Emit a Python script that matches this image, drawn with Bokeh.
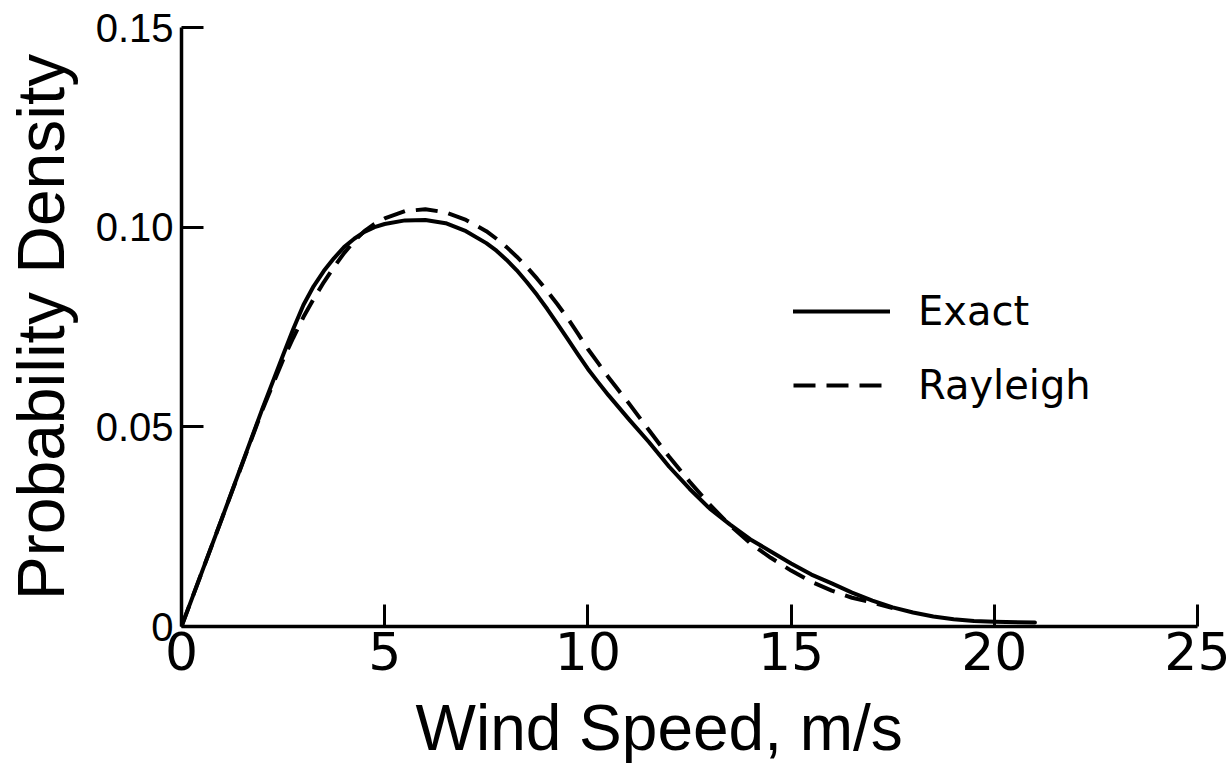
from bokeh.embed import file_html
from bokeh.models import FixedTicker, Legend, LegendItem, Range1d, Title
from bokeh.plotting import figure
from bokeh.resources import INLINE

# Wind speed (m/s) and probability density for the two distributions
speed_exact = [0, 1, 2, 2.5, 2.75, 3, 3.25, 3.5, 3.75, 4, 4.25, 4.5, 4.75, 5,
               5.5, 6, 6.5, 7, 7.5, 7.75, 8, 8.25, 8.5, 8.75, 9, 9.25, 9.5,
               9.75, 10, 10.25, 10.5, 10.75, 11, 11.5, 12, 12.5, 13, 13.5, 14,
               14.5, 15, 15.5, 16, 16.5, 17, 17.5, 18, 18.5, 19, 19.5, 20, 21]
density_exact = [0.0, 0.0272, 0.0548, 0.0680, 0.0745, 0.0805, 0.0852, 0.0890,
                 0.0922, 0.0950, 0.0971, 0.0988, 0.1000, 0.1008, 0.1017,
                 0.1018, 0.1010, 0.0990, 0.0960, 0.0941, 0.0918, 0.0892,
                 0.0862, 0.0830, 0.0795, 0.0758, 0.0720, 0.0682, 0.0645,
                 0.0612, 0.0580, 0.0550, 0.0520, 0.0462, 0.0400, 0.0345,
                 0.0295, 0.0255, 0.0218, 0.0188, 0.0158, 0.0130, 0.0108,
                 0.0085, 0.0065, 0.0048, 0.0035, 0.0025, 0.0018, 0.0014,
                 0.0012, 0.0010]

speed_rayleigh = [0, 1, 2, 2.5, 2.75, 3, 3.25, 3.5, 3.75, 4, 4.25, 4.5, 4.75,
                  5, 5.5, 6, 6.5, 7, 7.5, 7.75, 8, 8.25, 8.5, 8.75, 9, 9.25,
                  9.5, 9.75, 10, 10.25, 10.5, 10.75, 11, 11.5, 12, 12.5, 13,
                  13.5, 14, 14.5, 15, 15.5, 16, 16.5, 17, 17.5]
density_rayleigh = [0.0, 0.0272, 0.0545, 0.0668, 0.0723, 0.0775, 0.0820,
                    0.0862, 0.0900, 0.0935, 0.0965, 0.0990, 0.1008, 0.1022,
                    0.1040, 0.1045, 0.1037, 0.1018, 0.0990, 0.0971, 0.0950,
                    0.0926, 0.0900, 0.0871, 0.0840, 0.0807, 0.0772, 0.0734,
                    0.0695, 0.0660, 0.0625, 0.0592, 0.0560, 0.0492, 0.0425,
                    0.0363, 0.0305, 0.0253, 0.0208, 0.0172, 0.0140, 0.0112,
                    0.0090, 0.0072, 0.0060, 0.0046]

x_ticks = [0, 5, 10, 15, 20, 25]
x_tick_labels = ["0", "5", "10", "15", "20", "25"]
y_ticks = [0, 0.05, 0.10, 0.15]
y_tick_labels = ["0", "0.05", "0.10", "0.15"]

series_names = ["Exact", "Rayleigh"]
x_title = "Wind Speed, m/s"
y_title = "Probability Density"

SANS = "Liberation Sans"
WIDE = "DejaVu Sans"

p = figure(width=1230, height=780,
           x_range=Range1d(0, 25), y_range=Range1d(0, 0.15),
           output_backend="svg", toolbar_location=None,
           min_border_left=181, min_border_right=33,
           min_border_top=27, min_border_bottom=153)
p.xgrid.visible = False
p.ygrid.visible = False
p.outline_line_color = None
p.background_fill_color = "white"
p.border_fill_color = "white"

for ax in (p.xaxis[0], p.yaxis[0]):
    ax.axis_line_width = 3.5
    ax.axis_line_color = "black"
    ax.major_tick_line_width = 3
    ax.major_tick_line_color = "black"
    ax.major_tick_in = 22
    ax.major_tick_out = 0
    ax.minor_tick_line_color = None
    ax.major_label_text_color = "black"

xa = p.xaxis[0]
xa.ticker = FixedTicker(ticks=x_ticks)
xa.major_label_overrides = {t: s for t, s in zip(x_ticks, x_tick_labels)}
xa.major_label_text_font = WIDE
xa.major_label_text_font_size = "52px"
xa.major_label_standoff = 5

ya = p.yaxis[0]
ya.ticker = FixedTicker(ticks=y_ticks)
ya.major_label_overrides = {t: s for t, s in zip(y_ticks, y_tick_labels)}
ya.major_label_text_font = SANS
ya.major_label_text_font_size = "40px"
ya.major_label_standoff = 8
ya.axis_label = y_title
ya.axis_label_text_font = SANS
ya.axis_label_text_font_size = "66px"
ya.axis_label_text_font_style = "normal"
ya.axis_label_text_color = "black"
ya.axis_label_standoff = 15

# x-axis title as a side panel, set left of centre like hand lettering
p.add_layout(Title(text=x_title, align="left", offset=234, standoff=34,
                   vertical_align="bottom",
                   text_font=SANS, text_font_size="64px",
                   text_font_style="normal", text_color="black"), "below")

rayleigh = p.line(speed_rayleigh, density_rayleigh, line_color="black",
                  line_width=4, line_dash="22 11", line_cap="butt")
exact = p.line(speed_exact, density_exact, line_color="black",
               line_width=4, line_cap="round", line_join="round")

legend = Legend(items=[LegendItem(label=series_names[0], renderers=[exact]),
                       LegendItem(label=series_names[1], renderers=[rayleigh])],
                location=(612, 218), orientation="vertical",
                glyph_width=97, glyph_height=40, label_height=40,
                label_standoff=28, spacing=28, padding=0, margin=0,
                border_line_color=None, background_fill_alpha=0,
                label_text_font=WIDE, label_text_font_size="40px",
                label_text_color="black")
p.add_layout(legend)

open("out.html", "w").write(file_html(p, INLINE))
